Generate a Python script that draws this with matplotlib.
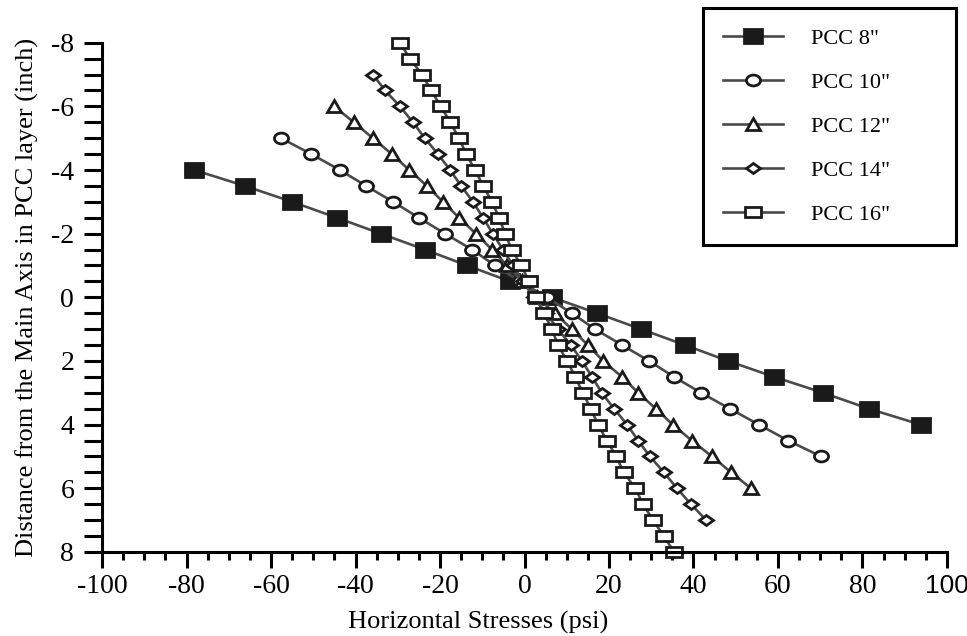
import matplotlib
matplotlib.use("Agg")
import matplotlib.pyplot as plt
from matplotlib.markers import MarkerStyle
from matplotlib.transforms import Affine2D, ScaledTranslation

# depth (inch) and horizontal stress (psi)
depth_8 = [-4, -3.5, -3, -2.5, -2, -1.5, -1, -0.5, 0, 0.5, 1, 1.5, 2, 2.5, 3, 3.5, 4]
stress_8 = [-78.2, -66.2, -55.0, -44.4, -34.0, -23.6, -13.6, -3.4, 6.5, 17.2, 27.6,
            38.0, 48.2, 59.1, 70.7, 81.5, 93.8]

depth_10 = [-5, -4.5, -4, -3.5, -3, -2.5, -2, -1.5, -1, -0.5, 0, 0.5, 1, 1.5, 2, 2.5,
            3, 3.5, 4, 4.5, 5]
stress_10 = [-57.6, -50.5, -43.7, -37.5, -31.1, -25.0, -18.8, -12.4, -7.0, -1.1, 5.3,
             11.2, 16.7, 23.1, 29.5, 35.4, 41.8, 48.6, 55.5, 62.4, 70.2]

depth_12 = [-6, -5.5, -5, -4.5, -4, -3.5, -3, -2.5, -2, -1.5, -1, -0.5, 0, 0.5, 1, 1.5,
            2, 2.5, 3, 3.5, 4, 4.5, 5, 5.5, 6]
stress_12 = [-45.1, -40.4, -35.9, -31.4, -27.3, -23.1, -19.3, -15.5, -11.5, -7.7, -4.1,
             -0.6, 3.0, 7.2, 11.2, 15.0, 18.6, 23.1, 26.9, 31.1, 35.1, 39.6, 44.4, 48.9, 53.6]

depth_14 = [-7, -6.5, -6, -5.5, -5, -4.5, -4, -3.5, -3, -2.5, -2, -1.5, -1, -0.5, 0,
            0.5, 1, 1.5, 2, 2.5, 3, 3.5, 4, 4.5, 5, 5.5, 6, 6.5, 7]
stress_14 = [-35.9, -33.0, -29.5, -26.4, -23.6, -20.5, -17.6, -15.0, -12.2, -9.8, -7.5,
             -5.1, -2.7, -0.4, 2.2, 5.1, 7.9, 11.0, 13.6, 16.0, 18.3, 21.2, 24.3, 26.9,
             29.7, 33.0, 36.1, 39.4, 43.0]

depth_16 = [-8, -7.5, -7, -6.5, -6, -5.5, -5, -4.5, -4, -3.5, -3, -2.5, -2, -1.5, -1,
            -0.5, 0, 0.5, 1, 1.5, 2, 2.5, 3, 3.5, 4, 4.5, 5, 5.5, 6, 6.5, 7, 7.5, 8]
stress_16 = [-29.5, -27.1, -24.3, -22.1, -19.8, -17.6, -15.5, -13.8, -11.7, -9.8, -7.7,
             -6.0, -4.6, -3.0, -0.8, 1.1, 2.7, 4.6, 6.5, 7.9, 10.1, 12.0, 13.8, 15.7,
             17.4, 19.5, 21.7, 23.5, 26.2, 28.1, 30.4, 33.0, 35.4]

labels = ['PCC 8"', 'PCC 10"', 'PCC 12"', 'PCC 14"', 'PCC 16"']

x_ticks = [-100, -80, -60, -40, -20, 0, 20, 40, 60, 80, 100]
x_ticklabels = ["-100", "-80", "-60", "-40", "-20", "0", "20", "40", "60", "80", "100"]
y_ticks = [-8, -6, -4, -2, 0, 2, 4, 6, 8]
y_ticklabels = ["-8", "-6", "-4", "-2", "0", "2", "4", "6", "8"]

plt.rcParams['font.family'] = ['Liberation Serif', 'DejaVu Serif']

fig = plt.figure(figsize=(9.67, 6.36), dpi=100)
ax = fig.add_axes([0.1055, 0.1321, 0.8738, 0.8008])

line_col = '#4a4a4a'
edge_col = '#1a1a1a'


def wide(m, sx):
    return MarkerStyle(m, transform=Affine2D().scale(sx, 1.0))


series = [
    (stress_8, depth_8, wide('s', 1.35), 9.8, edge_col),
    (stress_10, depth_10, wide('o', 1.3), 7.8, 'white'),
    (stress_12, depth_12, wide('^', 1.3), 8.2, 'white'),
    (stress_14, depth_14, wide('D', 1.2), 5.6, 'white'),
    (stress_16, depth_16, wide('s', 1.45), 7.8, 'white'),
]

for (xs, ys, mk, ms, fc), lab in zip(series, labels):
    ax.plot(xs, ys, color=line_col, lw=1.9, marker=mk, markersize=ms,
            markerfacecolor=fc, markeredgecolor=edge_col, markeredgewidth=2.0,
            label=lab, clip_on=False)

ax.set_xlim(-100, 100)
ax.set_ylim(8, -8)

ax.set_xticks(x_ticks)
ax.set_xticklabels(x_ticklabels, fontsize=20)
ax.set_xticks(range(-100, 101, 5), minor=True)
ax.set_yticks(y_ticks)
ax.set_yticklabels(y_ticklabels, fontsize=20)
ax.set_yticks([v / 2 for v in range(-16, 17)], minor=True)

# the last x label is set in a sans face in the original, a bit left of its tick
last = ax.get_xticklabels()[-1]
last.set_fontfamily('Liberation Sans')
last.set_fontsize(19)
last.set_transform(last.get_transform() + ScaledTranslation(-9 / 72, 0, fig.dpi_scale_trans))

ax.tick_params(axis='x', which='major', direction='out', length=11.5, width=2.2, pad=4)
ax.tick_params(axis='x', which='minor', direction='out', length=5.8, width=2.2)
ax.tick_params(axis='y', which='both', direction='out', length=13, width=2.2, pad=7)

for s in ['top', 'right']:
    ax.spines[s].set_visible(False)
for s in ['left', 'bottom']:
    ax.spines[s].set_linewidth(2.2)

ax.set_xlabel('Horizontal Stresses (psi)', fontsize=19)
ax.xaxis.set_label_coords(0.445, -0.115)
ax.set_ylabel('Distance from the Main Axis in PCC layer (inch)', fontsize=19, labelpad=9)

leg = ax.legend(loc='upper left',
                bbox_to_anchor=(703 / 967, 1 - 245 / 636, 253 / 967, 237 / 636),
                bbox_transform=fig.transFigure, mode='expand', borderaxespad=0,
                fontsize=16, frameon=True, fancybox=False, edgecolor='black',
                framealpha=1, handlelength=2.7, handletextpad=1.25,
                labelspacing=1.06, borderpad=0.9)
leg.get_frame().set_linewidth(2.2)
leg.set_zorder(5)

fig.savefig('out.png', dpi=100)
